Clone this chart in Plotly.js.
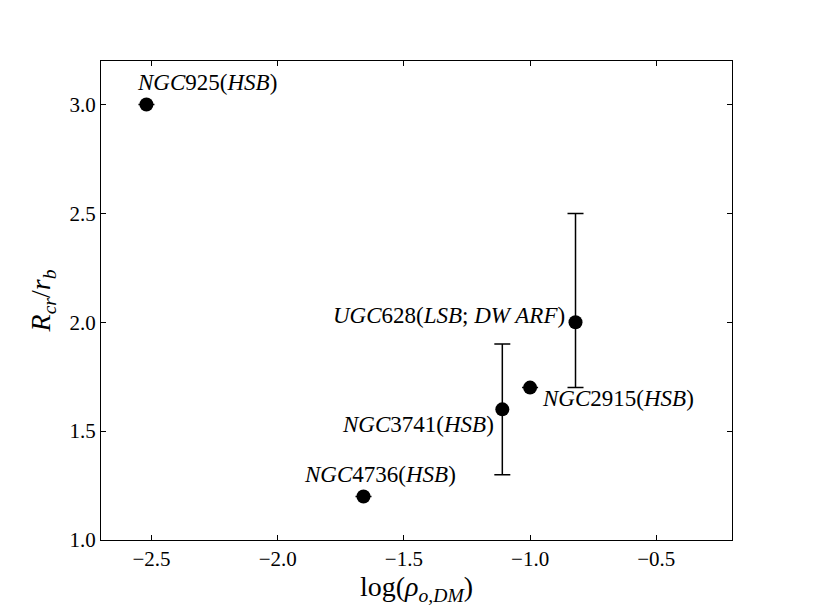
<!DOCTYPE html>
<html>
<head>
<meta charset="utf-8">
<script src="https://cdn.plot.ly/plotly-3.0.1.min.js"></script>
<style>html,body{margin:0;padding:0;background:#fff;}#chart{width:813px;height:613px;}</style>
</head>
<body>
<div id="chart"></div>
<script>
// Data
const galaxyLabels = ['<i>NGC</i>925(<i>HSB</i>)', '<i>NGC</i>4736(<i>HSB</i>)', '<i>NGC</i>3741(<i>HSB</i>)', '<i>NGC</i>2915(<i>HSB</i>)', '<i>UGC</i>628(<i>LSB</i>; <i>DW ARF</i>)'];
const logRho = [-2.52, -1.66, -1.11, -1.00, -0.82];
const ratio = [3.0, 1.2, 1.6, 1.7, 2.0];
const errPlus = [0, 0, 0.3, 0, 0.5];
const errMinus = [0, 0, 0.3, 0, 0.3];
const xTicks = [-2.5, -2.0, -1.5, -1.0, -0.5];
const yTicks = [1.0, 1.5, 2.0, 2.5, 3.0];

// label placement (styling)
const labelStyle = [
  {xanchor: 'left', xshift: -11, yshift: 22},
  {xanchor: 'left', xshift: -62, yshift: 22},
  {xanchor: 'right', xshift: -6, yshift: -15},
  {xanchor: 'left', xshift: 10, yshift: -11},
  {xanchor: 'right', xshift: -9, yshift: 7}
];

const trace = {
  x: logRho, y: ratio, type: 'scatter', mode: 'markers',
  marker: {color: '#000', size: 14},
  error_y: {type: 'data', symmetric: false, array: errPlus, arrayminus: errMinus,
            color: '#000', thickness: 1.5, width: 8},
  hoverinfo: 'skip'
};

const annotations = galaxyLabels.map((t, i) => Object.assign({
  x: logRho[i], y: ratio[i], xref: 'x', yref: 'y', text: t, showarrow: false,
  yanchor: 'middle', font: {family: 'Liberation Serif', size: 23, color: '#000'}
}, labelStyle[i]));

const axisCommon = {
  showgrid: false, zeroline: false, showline: true, linecolor: '#000', linewidth: 1,
  mirror: 'ticks', ticks: 'inside', ticklen: 5, tickcolor: '#000', tickwidth: 1,
  tickfont: {family: 'Liberation Serif', size: 21, color: '#000'}, tickformat: '.1f'
};

const layout = {
  width: 813, height: 613,
  margin: {l: 101, r: 81, t: 61, b: 73},
  paper_bgcolor: '#fff', plot_bgcolor: '#fff',
  showlegend: false,
  xaxis: Object.assign({}, axisCommon, {
    range: [-2.7, -0.2], tickvals: xTicks,
    title: {text: 'log(<i>ρ</i><sub><i>o,DM</i></sub>)', font: {family: 'Liberation Serif', size: 28, color: '#000'}, standoff: 4}
  }),
  yaxis: Object.assign({}, axisCommon, {
    range: [1.0, 3.2], tickvals: yTicks,
    title: {text: '<i>R</i><sub><i>cr</i></sub>/<i>r</i><sub><i>b</i></sub>', font: {family: 'Liberation Serif', size: 28, color: '#000'}, standoff: 10}
  }),
  annotations: annotations
};

Plotly.newPlot('chart', [trace], layout, {displayModeBar: false, staticPlot: true});
</script>
</body>
</html>
